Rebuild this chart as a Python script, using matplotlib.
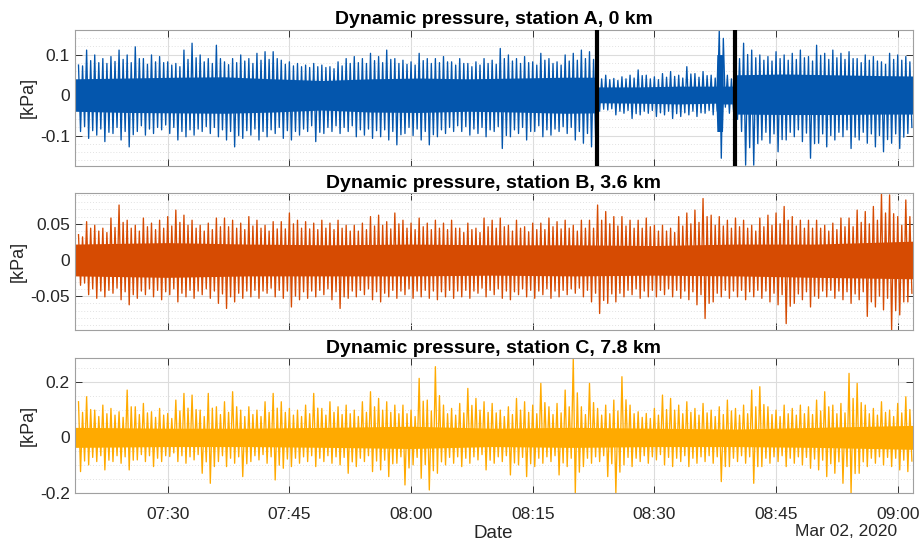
import numpy as np
import matplotlib.pyplot as plt
import matplotlib.dates as mdates
from matplotlib.ticker import MultipleLocator, FixedLocator

plt.rcParams.update({
    "font.family": ["Liberation Sans", "DejaVu Sans"],
    "axes.unicode_minus": False,
})

# minutes after 07:00 on 2020-03-02, one bin per minute (t = 19 ... 121)
bin_minutes = np.arange(19, 122)

# station A: largest peak per minute (upper / lower)
a_hi = [.074, .111, .099, .09, .095, .111, .099, .119, .09, .099,
        .095, .082, .078, .111, .128, .099, .09, .123, .082, .09,
        .099, .09, .103, .107, .107, .086, .082, .078, .074, .078,
        .074, .07, .082, .09, .095, .09, .103, .095, .111, .09,
        .086, .082, .103, .09, .09, .095, .082, .09, .078, .082,
        .09, .086, .115, .099, .09, .095, .082, .103, .09, .082,
        .099, .103, .111, .107, .045, .049, .041, .045, .049, .062,
        .049, .045, .053, .058, .049, .07, .053, .058, .049, .16,
        .049, .1, .128, .111, .099, .095, .107, .099, .103, .111,
        .095, .123, .103, .111, .103, .107, .09, .099, .095, .082,
        .103, .099, .095]
a_lo = [-.09, -.107, -.099, -.115, -.095, -.111, -.128, -.09, -.099, -.095,
        -.086, -.095, -.111, -.103, -.099, -.09, -.095, -.103, -.111, -.128,
        -.107, -.099, -.111, -.103, -.095, -.107, -.111, -.099, -.09, -.115,
        -.095, -.09, -.095, -.09, -.103, -.099, -.107, -.103, -.111, -.123,
        -.095, -.1, -.111, -.123, -.103, -.095, -.09, -.09, -.099, -.095,
        -.103, -.09, -.132, -.103, -.095, -.111, -.09, -.103, -.099, -.09,
        -.095, -.111, -.119, -.128, -.04, -.037, -.049, -.045, -.058, -.049,
        -.045, -.053, -.049, -.058, -.053, -.049, -.053, -.045, -.049, -.156,
        -.045, -.06, -.173, -.173, -.111, -.119, -.14, -.111, -.103, -.115,
        -.156, -.119, -.128, -.111, -.103, -.132, -.111, -.119, -.128, -.14,
        -.119, -.132, -.095]
# station A: second peak per minute
a2_hi = [.072, .085, .08, .078, .083, .088, .08, .09, .076, .082,
         .08, .074, .07, .088, .092, .082, .078, .09, .075, .08,
         .084, .078, .086, .088, .09, .076, .072, .07, .068, .07,
         .068, .065, .072, .078, .08, .078, .085, .08, .088, .078,
         .076, .074, .085, .078, .08, .082, .074, .078, .07, .074,
         .078, .076, .09, .084, .078, .08, .074, .086, .078, .074,
         .084, .086, .09, .088, .04, .038, .036, .04, .042, .048,
         .04, .038, .044, .046, .042, .052, .044, .048, .042, .14,
         .04, .09, .1, .092, .086, .084, .09, .086, .088, .092,
         .084, .098, .088, .092, .088, .09, .08, .086, .084, .076,
         .088, .086, .082]
a2_lo = [-.078, -.088, -.084, -.092, -.08, -.09, -.098, -.076, -.084, -.08,
         -.074, -.08, -.09, -.086, -.084, -.078, -.08, -.086, -.09, -.1,
         -.088, -.084, -.09, -.086, -.08, -.088, -.09, -.084, -.076, -.092,
         -.08, -.076, -.08, -.076, -.086, -.084, -.088, -.086, -.09, -.098,
         -.08, -.084, -.09, -.098, -.086, -.08, -.076, -.078, -.084, -.08,
         -.086, -.078, -.1, -.086, -.08, -.09, -.076, -.086, -.084, -.078,
         -.08, -.09, -.095, -.1, -.035, -.034, -.04, -.038, -.046, -.04,
         -.038, -.044, -.04, -.046, -.044, -.04, -.044, -.038, -.04, -.03,
         -.038, -.09, -.13, -.12, -.092, -.096, -.11, -.092, -.086, -.094,
         -.12, -.096, -.1, -.092, -.086, -.104, -.092, -.096, -.1, -.11,
         -.096, -.104, -.08]

# station B
b_hi = [.035, .053, .048, .044, .058, .076, .055, .048, .058, .051,
        .055, .06, .069, .062, .055, .048, .051, .058, .058, .055,
        .051, .06, .055, .048, .053, .053, .065, .055, .053, .051,
        .055, .051, .055, .048, .048, .051, .06, .062, .053, .065,
        .055, .051, .058, .051, .055, .051, .055, .044, .051, .044,
        .058, .055, .058, .048, .055, .046, .051, .051, .058, .053,
        .055, .048, .055, .055, .076, .067, .06, .06, .055, .055,
        .058, .048, .048, .044, .06, .065, .069, .085, .062, .06,
        .055, .058, .055, .048, .058, .062, .065, .074, .06, .055,
        .055, .055, .048, .051, .058, .058, .069, .067, .074, .092,
        .09, .06, .083]
b_lo = [-.035, -.048, -.053, -.051, -.046, -.055, -.062, -.053, -.048, -.051,
        -.055, -.048, -.058, -.051, -.053, -.048, -.053, -.06, -.067, -.058,
        -.053, -.051, -.053, -.046, -.051, -.053, -.065, -.055, -.053, -.051,
        -.048, -.055, -.067, -.053, -.051, -.048, -.055, -.058, -.051, -.053,
        -.048, -.053, -.051, -.053, -.055, -.051, -.053, -.051, -.053, -.046,
        -.051, -.048, -.053, -.055, -.048, -.051, -.053, -.048, -.053, -.051,
        -.048, -.046, -.051, -.058, -.074, -.06, -.058, -.051, -.048, -.053,
        -.051, -.051, -.048, -.051, -.053, -.055, -.062, -.081, -.058, -.051,
        -.053, -.051, -.055, -.051, -.053, -.058, -.062, -.088, -.06, -.055,
        -.065, -.053, -.051, -.053, -.055, -.06, -.055, -.078, -.065, -.069,
        -.097, -.076, -.058]
b2_hi = [.032, .044, .04, .038, .045, .052, .044, .04, .046, .042,
         .044, .047, .052, .048, .044, .04, .042, .046, .046, .044,
         .042, .047, .044, .04, .043, .043, .05, .044, .043, .042,
         .044, .042, .044, .04, .04, .042, .047, .048, .043, .05,
         .044, .042, .046, .042, .044, .042, .044, .038, .042, .038,
         .046, .044, .046, .04, .044, .039, .042, .042, .046, .043,
         .044, .04, .044, .044, .055, .05, .047, .047, .044, .044,
         .046, .04, .04, .038, .047, .05, .052, .06, .048, .047,
         .044, .046, .044, .04, .046, .048, .05, .055, .047, .044,
         .044, .044, .04, .042, .046, .046, .052, .05, .055, .065,
         .064, .048, .06]
b2_lo = [-.032, -.04, -.043, -.042, -.039, -.044, -.048, -.043, -.04, -.042,
         -.044, -.04, -.046, -.042, -.043, -.04, -.043, -.047, -.051, -.046,
         -.043, -.042, -.043, -.039, -.042, -.043, -.05, -.044, -.043, -.042,
         -.04, -.044, -.051, -.043, -.042, -.04, -.044, -.046, -.042, -.043,
         -.04, -.043, -.042, -.043, -.044, -.042, -.043, -.042, -.043, -.039,
         -.042, -.04, -.043, -.044, -.04, -.042, -.043, -.04, -.043, -.042,
         -.04, -.039, -.042, -.046, -.056, -.047, -.046, -.042, -.04, -.043,
         -.042, -.042, -.04, -.042, -.043, -.044, -.048, -.06, -.046, -.042,
         -.043, -.042, -.044, -.042, -.043, -.046, -.048, -.064, -.047, -.044,
         -.05, -.043, -.042, -.043, -.044, -.047, -.044, -.058, -.05, -.053,
         -.07, -.058, -.046]

# station C
c_hi = [.128, .146, .098, .116, .104, .092, .17, .11, .122, .092,
        .104, .086, .134, .158, .152, .098, .158, .11, .128, .164,
        .098, .11, .098, .128, .158, .128, .104, .098, .116, .158,
        .104, .128, .11, .116, .098, .128, .164, .14, .128, .116,
        .116, .098, .212, .134, .254, .116, .104, .122, .176, .14,
        .128, .122, .098, .11, .14, .128, .116, .194, .11, .122,
        .17, .284, .11, .194, .104, .116, .134, .218, .116, .092,
        .086, .104, .152, .14, .116, .128, .104, .122, .098, .11,
        .134, .104, .116, .17, .182, .11, .098, .116, .104, .116,
        .11, .134, .164, .116, .122, .23, .194, .116, .104, .128,
        .098, .122, .146]
c_lo = [-.123, -.099, -.087, -.117, -.087, -.093, -.117, -.081, -.087, -.105,
        -.087, -.069, -.087, -.093, -.081, -.129, -.165, -.087, -.105, -.093,
        -.141, -.087, -.081, -.093, -.153, -.111, -.105, -.093, -.087, -.105,
        -.087, -.093, -.099, -.129, -.105, -.087, -.123, -.117, -.141, -.093,
        -.171, -.099, -.147, -.189, -.129, -.099, -.093, -.105, -.093, -.081,
        -.117, -.093, -.087, -.135, -.099, -.141, -.105, -.093, -.087, -.135,
        -.105, -.2, -.105, -.093, -.087, -.141, -.2, -.099, -.105, -.087,
        -.093, -.081, -.099, -.105, -.087, -.105, -.093, -.087, -.093, -.159,
        -.105, -.087, -.093, -.165, -.105, -.093, -.087, -.105, -.093, -.099,
        -.111, -.117, -.141, -.129, -.165, -.2, -.129, -.105, -.093, -.099,
        -.105, -.117, -.123]
c2_hi = [.09, .1, .075, .085, .08, .072, .11, .082, .088, .072,
         .08, .068, .095, .105, .1, .075, .105, .082, .09, .11,
         .075, .082, .075, .09, .105, .09, .08, .075, .085, .105,
         .08, .09, .082, .085, .075, .09, .11, .098, .09, .085,
         .085, .075, .13, .095, .15, .085, .08, .088, .115, .098,
         .09, .088, .075, .082, .098, .09, .085, .125, .082, .088,
         .11, .16, .082, .125, .08, .085, .095, .135, .085, .072,
         .068, .08, .1, .098, .085, .09, .08, .088, .075, .082,
         .095, .08, .085, .11, .118, .082, .075, .085, .08, .085,
         .082, .095, .11, .085, .088, .14, .125, .085, .08, .09,
         .075, .088, .1]
c2_lo = [-.085, -.072, -.066, -.082, -.066, -.07, -.082, -.062, -.066, -.075,
         -.066, -.056, -.066, -.07, -.062, -.088, -.105, -.066, -.075, -.07,
         -.095, -.066, -.062, -.07, -.1, -.078, -.075, -.07, -.066, -.075,
         -.066, -.07, -.072, -.088, -.075, -.066, -.085, -.082, -.095, -.07,
         -.11, -.072, -.098, -.12, -.088, -.072, -.07, -.075, -.07, -.062,
         -.082, -.07, -.066, -.092, -.072, -.095, -.075, -.07, -.066, -.092,
         -.075, -.125, -.075, -.07, -.066, -.095, -.125, -.072, -.075, -.066,
         -.07, -.062, -.072, -.075, -.066, -.075, -.07, -.066, -.07, -.105,
         -.075, -.066, -.07, -.105, -.075, -.07, -.066, -.075, -.07, -.072,
         -.078, -.082, -.095, -.088, -.105, -.13, -.088, -.075, -.07, -.072,
         -.075, -.082, -.085]

# solid core of each trace (minutes, upper, lower)
core_a_t = [18.5, 25, 31, 37, 43, 49, 55, 61, 67, 73, 79, 82.9, 83.0, 88, 93,
            97.6, 97.7, 98.4, 98.5, 99.9, 100.0, 106, 112, 118, 121.9]
core_a_hi = [.04, .042, .044, .045, .04, .036, .04, .042, .04, .042, .044, .044,
             .02, .02, .022, .022, .1, .1, .022, .022, .05, .052, .05, .048, .047]
core_a_lo = [-.04, -.043, -.044, -.045, -.042, -.037, -.042, -.043, -.04, -.042,
             -.045, -.044, -.019, -.02, -.022, -.02, -.09, -.09, -.022, -.022,
             -.047, -.048, -.048, -.047, -.047]
core_bc_t = [18.5, 30, 40, 50, 60, 70, 80, 90, 100, 110, 121.9]
core_b_hi = [.022, .024, .022, .021, .022, .021, .021, .02, .022, .022, .026]
core_b_lo = [-.022, -.024, -.022, -.022, -.022, -.021, -.022, -.021, -.022, -.024, -.026]
core_c_hi = [.036, .033, .033, .036, .04, .033, .036, .033, .03, .036, .043]
core_c_lo = [-.036, -.033, -.033, -.036, -.04, -.033, -.036, -.033, -.033, -.036, -.043]

# marked interval on station A (minutes after 07:00)
marks_a = [82.93, 99.93]

titles = ["Dynamic pressure, station A, 0 km",
          "Dynamic pressure, station B, 3.6 km",
          "Dynamic pressure, station C, 7.8 km"]
colors = ["#0456AD", "#D64B02", "#FFAA00"]
ylims = [(-0.1745, 0.1605), (-0.0968, 0.0922), (-0.201, 0.284)]
yticks = [[-0.1, 0, 0.1], [-0.05, 0, 0.05], [-0.2, 0, 0.2]]
yminor = [0.02, 0.01, 0.05]
ylabel_x = [-0.045, -0.057, -0.045]

base = mdates.date2num(np.datetime64("2020-03-02T07:00:00"))


def tnum(minutes):
    return base + np.asarray(minutes, dtype=float) / 1440.0


series = [(a_hi, a_lo, a2_hi, a2_lo, core_a_t, core_a_hi, core_a_lo),
          (b_hi, b_lo, b2_hi, b2_lo, core_bc_t, core_b_hi, core_b_lo),
          (c_hi, c_lo, c2_hi, c2_lo, core_bc_t, core_c_hi, core_c_lo)]

fig = plt.figure(figsize=(9.21, 5.43), dpi=100)
rects = [[0.0811, 0.6948, 0.9099, 0.2499],
         [0.0811, 0.3923, 0.9099, 0.2517],
         [0.0811, 0.0915, 0.9099, 0.2486]]

# the four peaks of each minute are visited in turn: high, low, second high, second low
quarter = np.array([0.0, 0.25, 0.5, 0.75])

for i, (hi, lo, hi2, lo2, ct, chi, clo) in enumerate(series):
    ax = fig.add_axes(rects[i])
    ax.set_axisbelow(True)
    trace_t = (bin_minutes[:, None] + quarter[None, :]).ravel()
    trace_v = np.column_stack([hi, lo, hi2, lo2]).ravel()
    ax.plot(tnum(trace_t), trace_v, color=colors[i], lw=0.95, zorder=1)
    ax.fill_between(tnum(ct), clo, chi, color=colors[i], lw=0, zorder=2)
    if i == 0:
        for m in marks_a:
            ax.axvline(tnum(m), color="black", lw=3, zorder=4)

    ax.set_xlim(tnum(18.53), tnum(121.85))
    ax.set_ylim(*ylims[i])
    ax.xaxis.set_major_locator(mdates.MinuteLocator(byminute=[0, 15, 30, 45]))
    ax.xaxis.set_major_formatter(mdates.DateFormatter("%H:%M"))
    ax.yaxis.set_major_locator(FixedLocator(yticks[i]))
    ax.yaxis.set_major_formatter(plt.FuncFormatter(lambda v, p: "0" if v == 0 else f"{v:g}"))
    ax.yaxis.set_minor_locator(MultipleLocator(yminor[i]))
    ax.grid(True, which="major", color="#dcdcdc", lw=0.8)
    ax.grid(True, which="minor", axis="y", color="#e2e2e2", lw=0.7, ls=(0, (1, 2)))
    ax.tick_params(which="major", direction="in", length=5, width=0.7, color="#333333",
                   top=True, right=True, labelsize=12.5, labelcolor="#262626")
    ax.tick_params(axis="x", pad=10)
    ax.tick_params(which="minor", left=False, right=False)
    for s in ax.spines.values():
        s.set_color("#a0a0a0")
        s.set_linewidth(0.8)
    ax.set_title(titles[i], fontsize=14, fontweight="bold", pad=4)
    ax.set_ylabel("[kPa]", fontsize=13, color="#262626")
    ax.yaxis.set_label_coords(ylabel_x[i], 0.5)
    if i < 2:
        ax.tick_params(labelbottom=False)
    else:
        ax.set_xlabel("Date", fontsize=13.5, color="#262626", labelpad=2)

fig.text(896.7 / 921, 1 - 532 / 543, "Mar 02, 2020", ha="right", va="center",
         fontsize=12.5, color="#262626")

plt.savefig("out.png", dpi=100)
